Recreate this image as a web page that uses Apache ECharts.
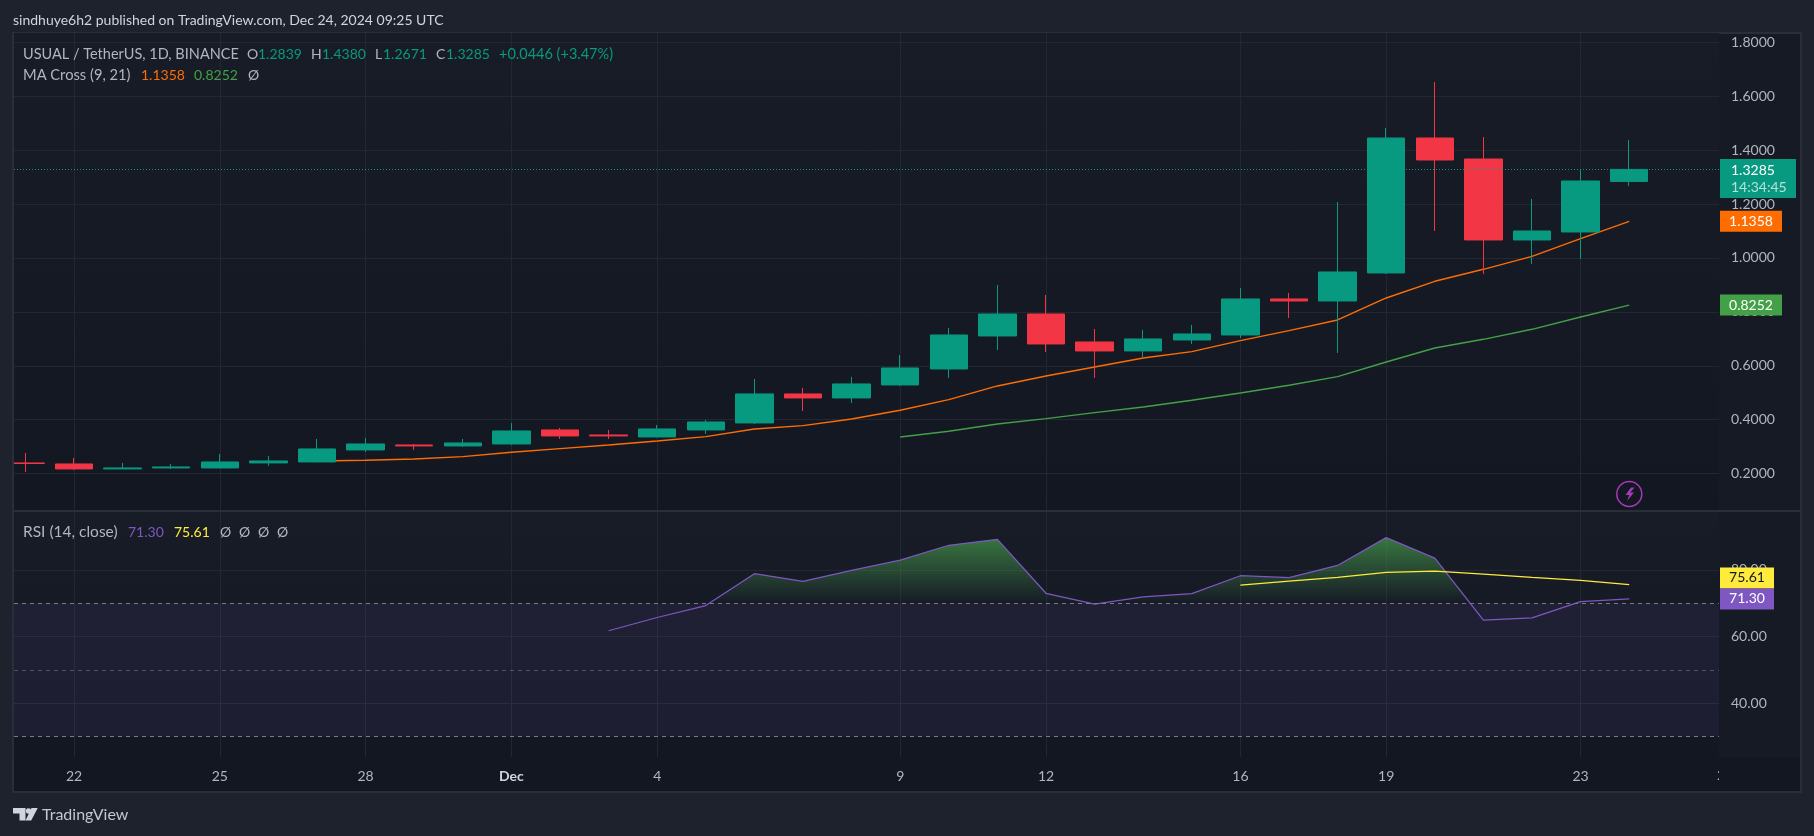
<!DOCTYPE html>
<html><head><meta charset="utf-8">
<style>html,body{margin:0;padding:0;background:#1e222d}#c{width:1814px;height:836px}</style>
<script src="https://cdn.jsdelivr.net/npm/echarts@6/dist/echarts.min.js"></script>
</head><body><div id="c"></div>
<script>
// day index 0 = 21 Nov 2024
const dayIndex = [0,1,2,3,4,5,6,7,8,9,10,11,12,13,14,15,16,17,18,19,20,21,22,23,24,25,26,27,28,29,30,31,32,33];
const opens  = [.2395,.2358,.2173,.2210,.2210,.2396,.2433,.2878,.3063,.3026,.3100,.3620,.3434,.3360,.3620,.3879,.4955,.4807,.5289,.5882,.7106,.7922,.6884,.6550,.6958,.7143,.8479,.8404,.9443,1.4450,1.3671,1.0667,1.0963,1.2839];
const closes = [.2375,.2173,.2210,.2247,.2433,.2470,.2915,.3100,.3026,.3137,.3582,.3397,.3397,.3657,.3916,.4955,.4807,.5326,.5919,.7143,.7922,.6809,.6550,.6995,.7180,.8479,.8404,.9480,1.4450,1.3634,1.0667,1.1001,1.2855,1.3285];
const lows   = [.2062,.2136,.2170,.2173,.2200,.2284,.2420,.2804,.2878,.2989,.3063,.3286,.3286,.3350,.3471,.3842,.4324,.4621,.5252,.5548,.6587,.6513,.5548,.6327,.6809,.7032,.7774,.6476,.9406,1.1001,.9406,.9777,.9962,1.2671];
const highs  = [.2766,.2581,.2396,.2358,.2729,.2655,.3286,.3323,.3100,.3286,.3879,.3694,.3620,.3805,.3990,.5511,.5177,.5585,.6401,.7403,.8998,.8627,.7366,.7329,.7514,.8887,.8701,1.2076,1.4821,1.6527,1.4487,1.2187,1.3300,1.4380];
const ma9  = [null,null,null,null,null,null,.2470,.2494,.2544,.2630,.2791,.2927,.3063,.3212,.3372,.3657,.3780,.4027,.4349,.4745,.5252,.5622,.5956,.6290,.6525,.6933,.7304,.7700,.8515,.9134,.9579,1.0061,1.0716,1.1358];
const ma21 = [null,null,null,null,null,null,null,null,null,null,null,null,null,null,null,null,null,null,.3360,.3570,.3842,.4040,.4262,.4473,.4720,.4992,.5276,.5598,.6142,.6661,.6982,.7353,.7811,.8252];
const rsi  = [null,null,null,null,null,null,null,null,null,null,null,null,61.74,65.72,69.30,78.86,76.57,79.85,82.94,87.41,89.20,72.99,69.70,71.89,72.89,78.26,77.66,81.34,89.70,83.53,64.93,65.62,70.50,71.30];
const rsiMa= [null,null,null,null,null,null,null,null,null,null,null,null,null,null,null,null,null,null,null,null,null,null,null,null,null,75.47,76.67,77.76,79.25,79.65,78.76,77.76,76.87,75.61];
const priceTicks = [0.2,0.4,0.6,0.8,1.0,1.2,1.4,1.6,1.8];
const rsiTicks = [40,60,80];
const dateTicks = [1,4,7,10,13,18,21,25,28,32];
const dateLabels = ['22','25','28','Dec','4','9','12','16','19','23'];

const UP='#089981', DOWN='#F23645', ORANGE='#FF6D00', GREEN='#43A047', PURPLE='#7E57C2', YELLOW='#FFEB3B';
const FONT='Lato', TXT='#B2B5BE';
const GRIDC='#232732';
const paneBg={type:'linear',x:0,y:0,x2:0,y2:1,colorStops:[{offset:0,color:'#181C27'},{offset:1,color:'#131722'}]};

const rsiVals=rsi.filter(v=>v!==null), rTop=Math.max(...rsiVals), rBot=Math.min(...rsiVals);
const stop70=(rTop-70)/(rTop-rBot);

const LEFT=14,RIGHT=1719,X0=(14-25.4)/48.6,X1=(1719-25.4)/48.6;
function xAx(idx,labels){return {type:'value',gridIndex:idx,min:X0,max:X1,position:'bottom',
  axisLine:{show:false},
  axisTick:{show:false,customValues:dateTicks},
  splitLine:{show:true,lineStyle:{color:GRIDC,width:1}},
  axisLabel:{show:labels,customValues:dateTicks,margin:12,fontFamily:FONT,fontSize:14,
    color:TXT,hideOverlap:false,showMinLabel:true,showMaxLabel:true,
    formatter:v=>dateLabels[dateTicks.indexOf(v)]===undefined?'':(dateLabels[dateTicks.indexOf(v)]==='Dec'?'{b|Dec}':dateLabels[dateTicks.indexOf(v)]),
    rich:{b:{fontFamily:FONT,fontSize:14,fontWeight:'bold',color:'#D1D4DC'}}}};}
function yAx(idx,min,max,ticks,fmt){return {type:'value',gridIndex:idx,min,max,position:'right',scale:true,
  axisLine:{show:false},
  axisTick:{show:false,customValues:ticks},
  splitLine:{show:true,lineStyle:{color:GRIDC,width:1}},
  axisLabel:{customValues:ticks,margin:12,align:'left',fontFamily:FONT,fontSize:14,color:TXT,formatter:v=>v.toFixed(fmt)}};}

const chart=echarts.init(document.getElementById('c'),null,{renderer:'canvas'});
function line(name,data,color,xi,yi,w,extra){return Object.assign({name,type:'line',data:data.map((v,i)=>[dayIndex[i],v]),
  xAxisIndex:xi,yAxisIndex:yi,showSymbol:false,symbol:'none',connectNulls:false,silent:true,animation:false,
  lineStyle:{color,width:w},itemStyle:{color}},extra||{});}

const txt=(x,y,text,fill,size)=>({type:'text',x,y,z:60,silent:true,style:{text,fill,font:(size||14)+'px '+FONT,textVerticalAlign:'middle'}});

const option={
  animation:false,backgroundColor:'#1E222D',
  grid:[
    {left:LEFT,top:33,width:RIGHT-LEFT,height:478,show:true,backgroundColor:paneBg,borderWidth:0},
    {left:LEFT,top:512,width:RIGHT-LEFT,height:245,show:true,backgroundColor:paneBg,borderWidth:0}
  ],
  xAxis:[xAx(0,false),xAx(1,true)],
  yAxis:[yAx(0,0.0613,1.8345,priceTicks,4),yAx(1,23.82,97.4,rsiTicks,2)],
  series:[
    line('MA9',ma9,ORANGE,0,0,1.4,{z:1}),
    line('MA21',ma21,GREEN,0,0,1.4,{z:1}),
    {name:'USUAL',type:'candlestick',xAxisIndex:0,yAxisIndex:0,z:3,silent:true,clip:true,
     barWidth:38,
     encode:{x:0,y:[1,2,3,4]},
     data:dayIndex.map((d,i)=>[d,opens[i],closes[i],lows[i],highs[i]]),
     itemStyle:{color:UP,color0:DOWN,borderColor:UP,borderColor0:DOWN,borderWidth:1},
     markLine:{silent:true,symbol:'none',animation:false,label:{show:false},
       lineStyle:{color:UP,type:[1,2],width:1},data:[{yAxis:closes[closes.length-1]}]}},
    line('RSI',rsi,PURPLE,1,1,1.25,{z:4,
      areaStyle:{origin:70,opacity:1,color:{type:'linear',x:0,y:0,x2:0,y2:1,colorStops:[
        {offset:0,color:'rgba(76,175,80,0.62)'},{offset:stop70,color:'rgba(76,175,80,0)'},{offset:1,color:'rgba(76,175,80,0)'}]}},
      markArea:{silent:true,animation:false,itemStyle:{color:'rgba(126,87,194,0.1)'},data:[[{yAxis:70},{yAxis:30}]]},
      markLine:{silent:true,symbol:'none',animation:false,label:{show:false},data:[
        {yAxis:70,lineStyle:{color:'#787B86',type:[4,4],width:1}},
        {yAxis:50,lineStyle:{color:'rgba(120,123,134,0.55)',type:[4,4],width:1}},
        {yAxis:30,lineStyle:{color:'#787B86',type:[4,4],width:1}}]}}),
    line('RSI MA',rsiMa,YELLOW,1,1,1.25,{z:5})
  ]
};
chart.setOption(option);

// tags placed through the library's own scale
const py=v=>chart.convertToPixel({yAxisIndex:0},v), ry=v=>chart.convertToPixel({yAxisIndex:1},v);
function tag(y,w,color,text,fg){return [
  {type:'rect',z:50,silent:true,shape:{x:1720,y:y-10.5,width:w,height:21},style:{fill:color}},
  {type:'text',z:51,silent:true,x:1720+w/2,y:y,style:{text,fill:fg,font:'14px '+FONT,textAlign:'center',textVerticalAlign:'middle'}}];}
const lastY=py(closes[33]);
const maV=ma9[33], m2V=ma21[33], rV=rsi[33], ryV=rsiMa[33];
const fr={type:'rect',z:-20,silent:true,shape:{x:13,y:33,width:1788,height:759},style:{fill:'#131722',stroke:'#2A2E39',lineWidth:2}};
const fr2={type:'rect',z:-19,silent:true,shape:{x:1719,y:34,width:81,height:723},style:{fill:'#161A25'}};
chart.setOption({graphic:{elements:[
  fr,fr2,
  {type:'line',z:1,silent:true,shape:{x1:14,y1:511,x2:1800,y2:511},style:{stroke:'#2A2E39',lineWidth:2}},
  // margin left of the frame hides what runs past the pane edge
  {type:'rect',z:45,silent:true,shape:{x:0,y:33,width:12,height:480},style:{fill:'#1E222D'}},
  {type:'line',z:46,silent:true,shape:{x1:13,y1:33,x2:13,y2:513},style:{stroke:'#2A2E39',lineWidth:2}},
  txt(13,20,'sindhuye6h2 published on TradingView.com, Dec 24, 2024 09:25 UTC','#D1D4DC'),
  txt(23,54,'USUAL / TetherUS, 1D, BINANCE',TXT,14.5),
  txt(247,54,'O',TXT),txt(258,54,'1.2839',UP),
  txt(311,54,'H',TXT),txt(322,54,'1.4380',UP),
  txt(375,54,'L',TXT),txt(383,54,'1.2671',UP),
  txt(436,54,'C',TXT),txt(446,54,'1.3285',UP),
  txt(499,54,'+0.0446 (+3.47%)',UP,14.5),
  txt(23,75,'MA Cross (9, 21)',TXT,14.7),txt(141,75,'1.1358',ORANGE),txt(194,75,'0.8252',GREEN),txt(248,75,'\u00D8',TXT),
  txt(23,532,'RSI (14, close)',TXT,15.5),txt(128,532,'71.30',PURPLE),txt(174,532,'75.61',YELLOW),
  txt(220,532,'\u00D8',TXT),txt(239,532,'\u00D8',TXT),txt(258,532,'\u00D8',TXT),txt(277,532,'\u00D8',TXT),
  // partly hidden next date label at the edge of the time scale
  {type:'text',z:30,silent:true,x:1725,y:775,style:{text:'26',fill:TXT,font:'14px '+FONT,textAlign:'center',textVerticalAlign:'middle'}},
  {type:'rect',z:31,silent:true,shape:{x:1719,y:758,width:81,height:33},style:{fill:'#131722'}},
  // last price tag
  {type:'rect',z:50,silent:true,shape:{x:1720,y:lastY-10.5,width:76,height:39},style:{fill:UP}},
  {type:'text',z:51,silent:true,x:1731,y:lastY+1,style:{text:closes[33].toFixed(4),fill:'#FFFFFF',font:'14px '+FONT,textVerticalAlign:'middle'}},
  {type:'text',z:51,silent:true,x:1731,y:lastY+18.5,style:{text:'14:34:45',fill:'rgba(255,255,255,0.7)',font:'14px '+FONT,textVerticalAlign:'middle'}},
  ...tag(py(maV),62,ORANGE,maV.toFixed(4),'#FFFFFF'),
  ...tag(py(m2V),62,GREEN,m2V.toFixed(4),'#FFFFFF'),
  // RSI tags: the moving-average tag is stacked on top of the RSI tag
  ...tag(ry(rV)-21,54,YELLOW,ryV.toFixed(2),'#131722'),
  ...tag(ry(rV),54,PURPLE,rV.toFixed(2),'#FFFFFF'),
  // alert icon
  {type:'circle',z:40,silent:true,shape:{cx:1629.3,cy:494,r:12.5},style:{fill:'transparent',stroke:'#A63AB8',lineWidth:1.5}},
  {type:'polygon',z:41,silent:true,shape:{points:[[1631,487.5],[1625.5,495],[1629.3,495],[1627,501],[1634,492.5],[1630.3,492.5],[1634.5,487.5]]},style:{fill:'#A63AB8'}},
  // TradingView logo
  {type:'polygon',z:40,silent:true,shape:{points:[[13,808],[25.5,808],[25.5,820.5],[19.5,820.5],[19.5,813.5],[13,813.5]]},style:{fill:'#D1D4DC'}},
  {type:'polygon',z:40,silent:true,shape:{points:[[31.5,808],[37.7,808],[31.2,820.5],[25.5,820.5]]},style:{fill:'#D1D4DC'}},
  {type:'circle',z:40,silent:true,shape:{cx:28.5,cy:811,r:2.7},style:{fill:'#D1D4DC'}},
  txt(42,815,'TradingView','#C4C7CF',16)
]}});
</script></body></html>
